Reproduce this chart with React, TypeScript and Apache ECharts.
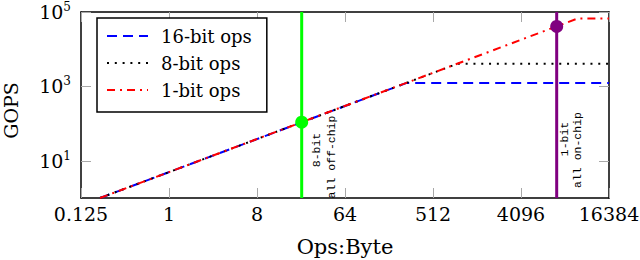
import React, { useEffect, useRef } from 'react';
import * as echarts from 'echarts';

// ---- data ----
const xTickValues = [0.125, 1, 8, 64, 512, 4096, 32768];
const xTickLabels = ['0.125', '1', '8', '64', '512', '4096', '16384'];
const yTickValues = [10, 1000, 100000];
const yTickExponents = ['1', '3', '5'];

const seriesNames = ['16-bit ops', '8-bit ops', '1-bit ops'];
const ops16: number[][] = [[0.196, 1], [271, 1225], [32768, 1225]];
const ops8: number[][] = [[0.196, 1], [910, 4055], [32768, 4055]];
const ops1: number[][] = [[0.196, 1], [15700, 67300], [32768, 67300]];

const offChipX = 23;
const offChipY = 109;
const onChipX = 9520;
const onChipY = 40900;

const xMin = 0.125;
const xMax = 32768;
const yMin = 1;
const yMax = 100000;

const SERIF = 'DejaVu Serif';
const MONO = 'Liberation Mono';

function xLabel(v: number): string {
  for (let i = 0; i < xTickValues.length; i++) {
    if (Math.abs(Math.log2(v) - Math.log2(xTickValues[i])) < 1e-6) return xTickLabels[i];
  }
  return '';
}
function yLabel(v: number): string {
  for (let i = 0; i < yTickValues.length; i++) {
    if (Math.abs(Math.log10(v) - Math.log10(yTickValues[i])) < 1e-6) return `{b|10}{s|${yTickExponents[i]}}`;
  }
  return '';
}

export default function App() {
  const ref = useRef<HTMLDivElement>(null);
  useEffect(() => {
    if (!ref.current) return;
    const chart = echarts.init(ref.current, undefined, { renderer: 'svg' });
    const axisLine = { show: true, onZero: false, lineStyle: { color: '#000', width: 1.5 } };
    const tickStyle = { color: '#a8a8a8', width: 1 };
    const annot = (text: string, x: number, y: number) => ({
      type: 'text', x, y, rotation: Math.PI / 2, z: 10,
      style: { text, font: `11.5px "${MONO}"`, fill: '#000', align: 'center', verticalAlign: 'middle' },
    });
    chart.setOption({
      animation: false,
      backgroundColor: '#fff',
      grid: { left: 81, right: 31, top: 12, bottom: 62, containLabel: false, outerBoundsMode: 'none' },
      legend: {
        data: seriesNames,
        orient: 'vertical',
        left: 97,
        top: 18,
        padding: [9, 15, 13, 9],
        itemGap: 9,
        itemWidth: 41,
        itemHeight: 14,
        borderColor: '#000',
        borderWidth: 1.5,
        borderRadius: 0,
        backgroundColor: '#fff',
        itemStyle: { opacity: 0 },
        textStyle: { fontFamily: SERIF, fontSize: 18, color: '#000', padding: [0, 0, 0, 8] },
      },
      xAxis: [
        {
          type: 'log', logBase: 2, min: xMin, max: xMax, position: 'bottom',
          axisLine,
          axisTick: { show: true, inside: true, length: 10, customValues: xTickValues, lineStyle: tickStyle },
          axisLabel: {
            customValues: xTickValues, formatter: (v: number) => xLabel(v), margin: 6,
            fontFamily: SERIF, fontSize: 19, color: '#000',
          },
          splitLine: { show: false },
          name: 'Ops:Byte', nameLocation: 'middle', nameGap: 38,
          nameTextStyle: { fontFamily: SERIF, fontSize: 21, color: '#000' },
        },
        {
          type: 'log', logBase: 2, min: xMin, max: xMax, position: 'top',
          axisLine,
          axisTick: { show: true, inside: true, length: 10, customValues: xTickValues, lineStyle: tickStyle },
          axisLabel: { show: false },
          splitLine: { show: false },
        },
      ],
      yAxis: [
        {
          type: 'log', logBase: 10, min: yMin, max: yMax, position: 'left',
          axisLine,
          axisTick: { show: true, inside: true, length: 10, customValues: yTickValues, lineStyle: tickStyle },
          axisLabel: {
            customValues: yTickValues, formatter: (v: number) => yLabel(v), margin: 10,
            color: '#000',
            rich: {
              b: { fontFamily: SERIF, fontSize: 19, color: '#000', lineHeight: 22 },
              s: { fontFamily: SERIF, fontSize: 12, color: '#000', verticalAlign: 'top', lineHeight: 12 },
            },
          },
          splitLine: { show: false },
        },
        {
          type: 'log', logBase: 10, min: yMin, max: yMax, position: 'right',
          axisLine,
          axisTick: { show: true, inside: true, length: 10, customValues: yTickValues, lineStyle: tickStyle },
          axisLabel: { show: false },
          splitLine: { show: false },
        },
      ],
      graphic: [
        { type: 'text', x: 11, y: 110.5, rotation: Math.PI / 2,
          style: { text: 'GOPS', font: `19px "${SERIF}"`, fill: '#000', align: 'center', verticalAlign: 'middle' } },
        annot('8-bit', 316.5, 150),
        annot('all off-chip', 331.5, 157),
        annot('1-bit', 564, 139),
        annot('all on-chip', 577.5, 150),
      ],
      series: [
        { name: seriesNames[0], type: 'line', data: ops16, symbol: 'none', z: 2,
          lineStyle: { color: '#0000ff', width: 2, type: [10, 6] }, itemStyle: { color: '#0000ff' } },
        { name: seriesNames[1], type: 'line', data: ops8, symbol: 'none', z: 3,
          lineStyle: { color: '#000000', width: 2, type: [2, 5.8] }, itemStyle: { color: '#000000' } },
        { name: seriesNames[2], type: 'line', data: ops1, symbol: 'none', z: 4,
          lineStyle: { color: '#ff0000', width: 2, type: [8, 5, 2, 5] }, itemStyle: { color: '#ff0000' } },
        { name: 'off-chip', type: 'line', data: [[offChipX, yMin], [offChipX, yMax]], symbol: 'none', z: 5,
          lineStyle: { color: '#00ff00', width: 3 } },
        { name: 'on-chip', type: 'line', data: [[onChipX, yMin], [onChipX, yMax]], symbol: 'none', z: 5,
          lineStyle: { color: '#800080', width: 3 } },
        { name: 'off-chip point', type: 'scatter', data: [[offChipX, offChipY]], symbolSize: 13, z: 6,
          itemStyle: { color: '#00ff00', opacity: 1 } },
        { name: 'on-chip point', type: 'scatter', data: [[onChipX, onChipY]], symbolSize: 13, z: 6,
          itemStyle: { color: '#800080', opacity: 1 } },
      ],
    });
    return () => chart.dispose();
  }, []);
  return <div ref={ref} style={{ position: 'fixed', left: 0, top: 0, width: 640, height: 260, background: '#fff' }} />;
}
